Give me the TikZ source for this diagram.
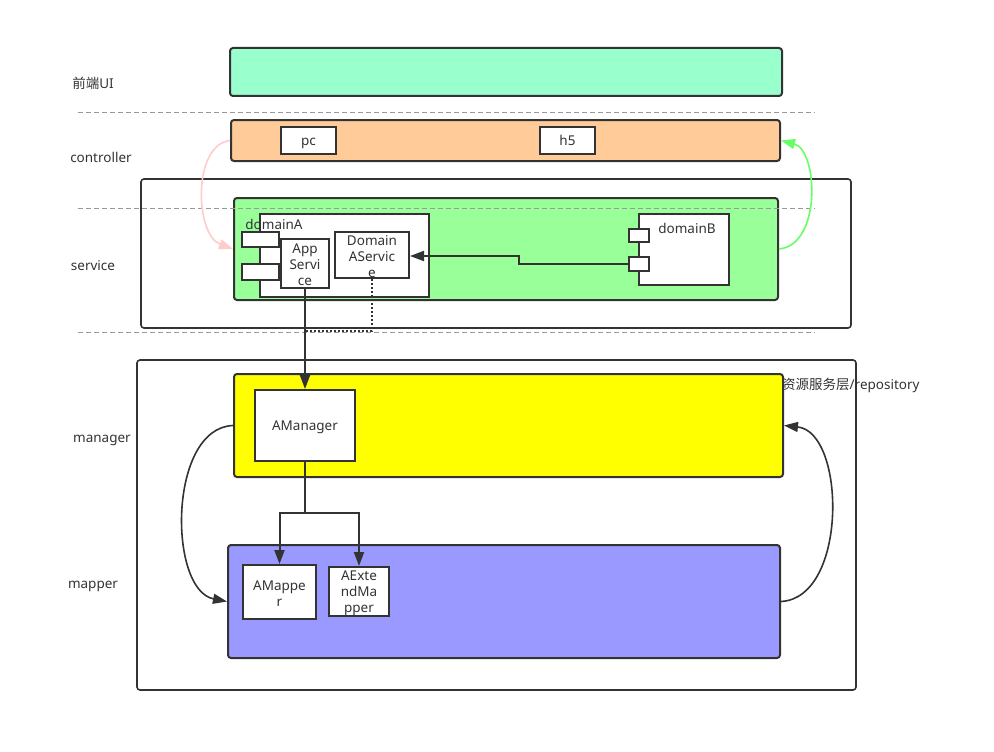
\documentclass[tikz,border=0pt]{standalone}
\usepackage{fontspec}
\setmainfont{Noto Sans}
\newfontfamily\cjk{Noto Sans CJK SC}
\usetikzlibrary{arrows.meta}
\definecolor{ink}{HTML}{333333}
\definecolor{uifill}{HTML}{99FFCC}
\definecolor{ctrlfill}{HTML}{FFCC99}
\definecolor{svcfill}{HTML}{99FF99}
\definecolor{mgrfill}{HTML}{FFFF00}
\definecolor{mapfill}{HTML}{9999FF}
\definecolor{dashgray}{HTML}{999999}
\definecolor{pinkline}{HTML}{FFCCCC}
\definecolor{greenline}{HTML}{66FF66}
\tikzset{
  every node/.style={font=\fontsize{13.5}{16}\selectfont, text=ink, inner sep=0pt},
  layer/.style={draw=ink, line width=2pt, rounded corners=3pt},
  frame/.style={draw=ink, line width=1.6pt, rounded corners=3pt, fill=white},
  comp/.style={draw=ink, line width=2pt, fill=white, align=center},
  one/.style={text height=12.5pt, text depth=2pt},
  port/.style={draw=ink, line width=2pt, fill=white},
  sep/.style={draw=dashgray, line width=1pt, dash pattern=on 5pt off 3pt},
  conn/.style={draw=ink, line width=2pt, -{Triangle[length=14pt,width=10pt]}},
  curve/.style={line width=1.6pt},
  lbl/.style={anchor=center},
}
\begin{document}
\begin{tikzpicture}[x=1pt,y=-1pt]
\useasboundingbox (0,0) rectangle (994,752);

% separators
\coordinate (s1a) at (78,112); \coordinate (s1b) at (815,112);
\coordinate (s2a) at (78,208); \coordinate (s2b) at (815,208);
\coordinate (s3a) at (78,332); \coordinate (s3b) at (815,332);

% outer frames
\node[frame, minimum width=710pt, minimum height=149pt] (svcframe) at (496,253.5) {};
\node[frame, minimum width=719pt, minimum height=330pt] (repoframe) at (496.5,525) {};

\draw[sep] (s1a) -- (s1b);
\draw[sep] (s3a) -- (s3b);

% layers
\node[layer, fill=uifill, minimum width=552pt, minimum height=48pt] (ui) at (506,72) {};
\node[layer, fill=ctrlfill, minimum width=549pt, minimum height=41pt] (ctrl) at (505.5,140.5) {};
\node[layer, fill=svcfill, minimum width=544pt, minimum height=102pt] (svc) at (506,249) {};
\node[layer, fill=mgrfill, minimum width=549pt, minimum height=103pt] (mgr) at (508.5,425.5) {};
\node[layer, fill=mapfill, minimum width=552pt, minimum height=113pt] (map) at (504,601.5) {};

\draw[sep] (s2a) -- (s2b);

% controller components
\node[comp, one, minimum width=55pt, minimum height=27pt] (pc) at (308.5,140.5) {pc};
\node[comp, one, minimum width=55pt, minimum height=27pt] (h5) at (567.5,140.5) {h5};

% domain A
\node[comp, minimum width=169pt, minimum height=83pt] (domA) at (344.5,255.5) {};
\node[port, minimum width=37pt, minimum height=15pt] (pa1) at (260.5,239.5) {};
\node[port, minimum width=37pt, minimum height=16pt] (pa2) at (260.5,272) {};
\node[lbl, one] (domAlbl) at (274,224) {domainA};
\node[comp, minimum width=48pt, minimum height=49pt] (app) at (305,263.5) {};
\node[lbl, align=center] (applbl) at (305,265) {App\\Servi\\ce};
\node[comp, minimum width=74pt, minimum height=46pt] (das) at (372,255) {};
\node[lbl, align=center] (daslbl) at (372,257) {Domain\\AServic\\e};

% domain B
\node[comp, minimum width=90pt, minimum height=71pt] (domB) at (684,249.5) {};
\node[lbl, one] (domBlbl) at (687,228) {domainB};
\node[port, minimum width=20pt, minimum height=13pt] (pb1) at (639,235.5) {};
\node[port, minimum width=20pt, minimum height=14pt] (pb2) at (639,264) {};

% manager / mapper components
\node[comp, one, minimum width=100pt, minimum height=71pt] (amgr) at (305,425.5) {AManager};
\node[comp, minimum width=73pt, minimum height=54pt] (amap) at (279.5,592) {};
\node[lbl, align=center] (amaplbl) at (279.5,594) {AMappe\\r};
\node[comp, minimum width=60pt, minimum height=49pt] (aext) at (359,591.5) {};
\node[lbl, align=center] (aextlbl) at (359,593) {AExte\\ndMa\\pper};

% row labels
\node[lbl, one] (lui) at (93,83) {{\cjk 前端}UI};
\node[lbl, one] (lctrl) at (101,157) {controller};
\node[lbl, one] (lsvc) at (93,265) {service};
\node[lbl, one] (lmgr) at (102,437) {manager};
\node[lbl, one] (lmap) at (93,583) {mapper};
\node[anchor=west, one] (lrepo) at (782,384) {{\cjk 资源服务层}/repository};

% connectors
\coordinate (bend1) at (519,264);
\coordinate (bend2) at (519,256);
\draw[conn] (pb2.west) -- (bend1) -- (bend2) -- (das.east |- bend2);

\coordinate (dotc) at (372,331);
\draw[ink, line width=2pt, dash pattern=on 2pt off 2pt] (das.south) -- (dotc) -- (app.south |- dotc);

\draw[conn] (app.south) -- (amgr.north);

\coordinate (split) at (305,513);
\draw[conn] (amgr.south) -- (split) -| (amap.north);
\draw[conn] (split) -| (aext.north);

% curved arrows
\draw[curve, draw=pinkline, -{Triangle[length=14pt,width=10pt,fill=pinkline]}] (ctrl.west) .. controls (192,145) and (195,235) .. (svc.west);
\draw[curve, draw=greenline, -{Triangle[length=14pt,width=10pt,fill=greenline]}] (svc.east) .. controls (822,245) and (818,150) .. (ctrl.east);
\draw[curve, draw=ink, -{Triangle[length=14pt,width=10pt,fill=ink]}] (mgr.west) .. controls (168,428) and (168,590) .. (map.west);
\draw[curve, draw=ink, -{Triangle[length=14pt,width=10pt,fill=ink]}] (map.east) .. controls (848,598) and (846,432) .. (mgr.east);
\end{tikzpicture}
\end{document}
